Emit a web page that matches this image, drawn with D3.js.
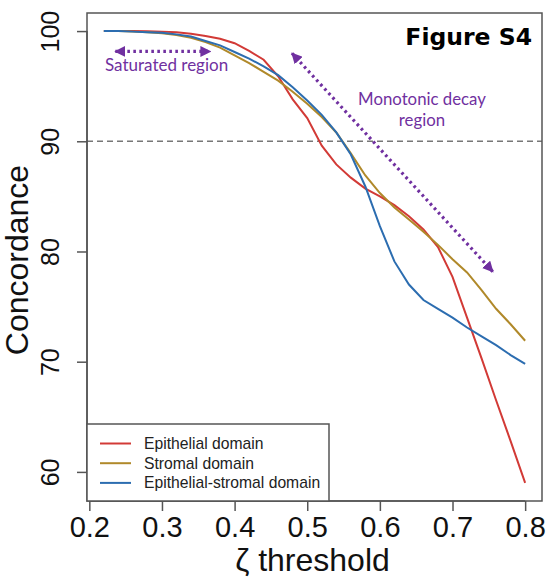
<!DOCTYPE html>
<html>
<head>
<meta charset="utf-8">
<script src="https://cdn.jsdelivr.net/npm/d3@7"></script>
<style>
  body { margin: 0; background: #fff; }
  svg { display: block; }
</style>
</head>
<body>
<svg width="548" height="578"></svg>
<script>
const svg = d3.select("svg");

// zeta threshold values (x axis)
const thresholds = [0.22, 0.24, 0.26, 0.28, 0.30, 0.32, 0.34, 0.36, 0.38, 0.40,
                    0.42, 0.44, 0.46, 0.48, 0.50, 0.52, 0.54, 0.56, 0.58, 0.60,
                    0.62, 0.64, 0.66, 0.68, 0.70, 0.72, 0.74, 0.76, 0.78, 0.80];

// concordance per domain
const epithelial = [100, 100, 100, 99.98, 99.95, 99.9, 99.75, 99.55, 99.3, 98.9,
                    98.2, 97.4, 95.9, 93.8, 92.1, 89.6, 87.9, 86.7, 85.7, 85.0,
                    84.2, 83.2, 82.0, 80.4, 77.7, 74.0, 70.3, 66.5, 62.8, 59.0];
const stromal = [100, 100, 99.95, 99.9, 99.8, 99.65, 99.4, 99.0, 98.5, 97.8,
                 97.1, 96.3, 95.5, 94.5, 93.4, 92.2, 90.8, 88.9, 86.9, 85.3,
                 84.0, 82.9, 81.8, 80.6, 79.3, 78.1, 76.5, 74.8, 73.4, 71.9];
const epiStromal = [100, 100, 99.95, 99.9, 99.85, 99.7, 99.5, 99.1, 98.7, 98.1,
                    97.5, 96.8, 96.0, 94.9, 93.7, 92.4, 90.8, 88.8, 85.9, 82.3,
                    79.1, 77.0, 75.6, 74.8, 74.0, 73.1, 72.3, 71.5, 70.6, 69.8];

const seriesNames = ["Epithelial domain", "Stromal domain", "Epithelial-stromal domain"];
const seriesColors = ["#d23a36", "#b0892a", "#2c6db0"];
const xTicks = [0.2, 0.3, 0.4, 0.5, 0.6, 0.7, 0.8];
const yTicks = [60, 70, 80, 90, 100];
const refLine = 90;

const purple = "#7030a0";

// plot box
const boxLeft = 87, boxRight = 542, boxTop = 13, boxBottom = 501;

// R style axis extension of 4%
function extend(ext) {
    const pad = (ext[1] - ext[0]) * 0.04;
    return [ext[0] - pad, ext[1] + pad];
}
const allY = epithelial.concat(stromal, epiStromal);

const x = d3.scaleLinear()
    .domain(extend(d3.extent(thresholds)))
    .range([boxLeft, boxRight]);

const y = d3.scaleLinear()
    .domain(extend(d3.extent(allY)))
    .range([boxBottom, boxTop]);

const axisColor = "#555";

// dashed reference line
svg.append("line")
    .attr("x1", boxLeft).attr("x2", boxRight)
    .attr("y1", y(refLine)).attr("y2", y(refLine))
    .attr("stroke", "#777")
    .attr("stroke-width", 1.5)
    .attr("stroke-dasharray", "6,4");

// curves
const line = d3.line()
    .x((d, i) => x(thresholds[i]))
    .y(d => y(d));

[epithelial, stromal, epiStromal].forEach((vals, k) => {
    svg.append("path")
        .datum(vals)
        .attr("d", line)
        .attr("fill", "none")
        .attr("stroke", seriesColors[k])
        .attr("stroke-width", 2);
});

// box
svg.append("rect")
    .attr("x", boxLeft).attr("y", boxTop)
    .attr("width", boxRight - boxLeft).attr("height", boxBottom - boxTop)
    .attr("fill", "none")
    .attr("stroke", axisColor)
    .attr("stroke-width", 1.5);

// x axis
const xAxis = svg.append("g")
    .attr("transform", `translate(0,${boxBottom})`)
    .call(d3.axisBottom(x).tickValues(xTicks).tickSize(10).tickPadding(5).tickFormat(d3.format(".1f")));
xAxis.select(".domain").attr("stroke", axisColor).attr("stroke-width", 1.5)
    .attr("d", `M${x(xTicks[0])},0H${x(xTicks[xTicks.length - 1])}`);
xAxis.selectAll(".tick line").attr("stroke", axisColor).attr("stroke-width", 1.5);
xAxis.selectAll(".tick text")
    .attr("font-family", "Liberation Sans, Arial, sans-serif")
    .attr("font-size", 29)
    .attr("fill", "#111");

// y axis
const yAxis = svg.append("g")
    .attr("transform", `translate(${boxLeft},0)`)
    .call(d3.axisLeft(y).tickValues(yTicks).tickSize(10));
yAxis.select(".domain").attr("stroke", axisColor).attr("stroke-width", 1.5)
    .attr("d", `M0,${y(yTicks[0])}V${y(yTicks[yTicks.length - 1])}`);
yAxis.selectAll(".tick line").attr("stroke", axisColor).attr("stroke-width", 1.5);
yAxis.selectAll(".tick text")
    .attr("font-family", "Liberation Sans, Arial, sans-serif")
    .attr("font-size", 25)
    .attr("fill", "#111")
    .attr("text-anchor", "middle")
    .attr("dy", null)
    .attr("x", null)
    .attr("transform", "translate(-28.5,0) rotate(-90)");

// axis titles
svg.append("text")
    .attr("x", (boxLeft + boxRight) / 2 - 2)
    .attr("y", 571)
    .attr("text-anchor", "middle")
    .attr("font-family", "Liberation Sans, Arial, sans-serif")
    .attr("font-size", 32)
    .attr("fill", "#111")
    .text("ζ threshold");

svg.append("text")
    .attr("transform", `translate(28,${(boxTop + boxBottom) / 2 + 3}) rotate(-90)`)
    .attr("text-anchor", "middle")
    .attr("font-family", "Liberation Sans, Arial, sans-serif")
    .attr("font-size", 32)
    .attr("fill", "#111")
    .text("Concordance");

// legend
const legend = svg.append("g");
legend.append("rect")
    .attr("x", boxLeft).attr("y", 424)
    .attr("width", 242).attr("height", boxBottom - 424)
    .attr("fill", "#fff")
    .attr("stroke", axisColor)
    .attr("stroke-width", 1.5);

seriesNames.forEach((name, k) => {
    const ly = 443.5 + k * 19.7;
    legend.append("line")
        .attr("x1", 100).attr("x2", 131)
        .attr("y1", ly).attr("y2", ly)
        .attr("stroke", seriesColors[k])
        .attr("stroke-width", 2);
    legend.append("text")
        .attr("x", 144)
        .attr("y", ly + 5.5)
        .attr("font-family", "Liberation Sans, Arial, sans-serif")
        .attr("font-size", 15.7)
        .attr("fill", "#222")
        .text(name);
});

// annotations
const defs = svg.append("defs");
defs.append("marker")
    .attr("id", "head")
    .attr("viewBox", "0 0 10 10")
    .attr("refX", 9).attr("refY", 5)
    .attr("markerUnits", "userSpaceOnUse")
    .attr("markerWidth", 11).attr("markerHeight", 11)
    .attr("orient", "auto-start-reverse")
    .append("path")
    .attr("d", "M0,0L10,5L0,10Z")
    .attr("fill", purple);

// saturated region arrow (both ends)
svg.append("line")
    .attr("x1", x(0.2358)).attr("x2", x(0.3665))
    .attr("y1", y(98.15)).attr("y2", y(98.15))
    .attr("stroke", purple)
    .attr("stroke-width", 3.2)
    .attr("stroke-dasharray", "2.6,3.4")
    .attr("marker-start", "url(#head)")
    .attr("marker-end", "url(#head)");

// monotonic decay arrow
svg.append("line")
    .attr("x1", x(0.479)).attr("y1", y(97.99))
    .attr("x2", x(0.7555)).attr("y2", y(78.17))
    .attr("stroke", purple)
    .attr("stroke-width", 3.2)
    .attr("stroke-dasharray", "2.6,3.4")
    .attr("marker-start", "url(#head)")
    .attr("marker-end", "url(#head)");

const annFont = "Lato, 'Open Sans', sans-serif";
svg.append("text")
    .attr("x", 105).attr("y", 71)
    .attr("font-family", annFont)
    .attr("font-size", 17)
    .attr("fill", purple)
    .text("Saturated region");

svg.append("text")
    .attr("x", 422).attr("y", 105)
    .attr("text-anchor", "middle")
    .attr("font-family", annFont)
    .attr("font-size", 16.8)
    .attr("fill", purple)
    .text("Monotonic decay");

svg.append("text")
    .attr("x", 422).attr("y", 126)
    .attr("text-anchor", "middle")
    .attr("font-family", annFont)
    .attr("font-size", 16.8)
    .attr("fill", purple)
    .text("region");

// figure tag
svg.append("text")
    .attr("x", 532).attr("y", 45)
    .attr("text-anchor", "end")
    .attr("font-family", "DejaVu Sans, Verdana, sans-serif")
    .attr("font-weight", "bold")
    .attr("font-size", 23.5)
    .attr("fill", "#000")
    .text("Figure S4");
</script>
</body>
</html>
